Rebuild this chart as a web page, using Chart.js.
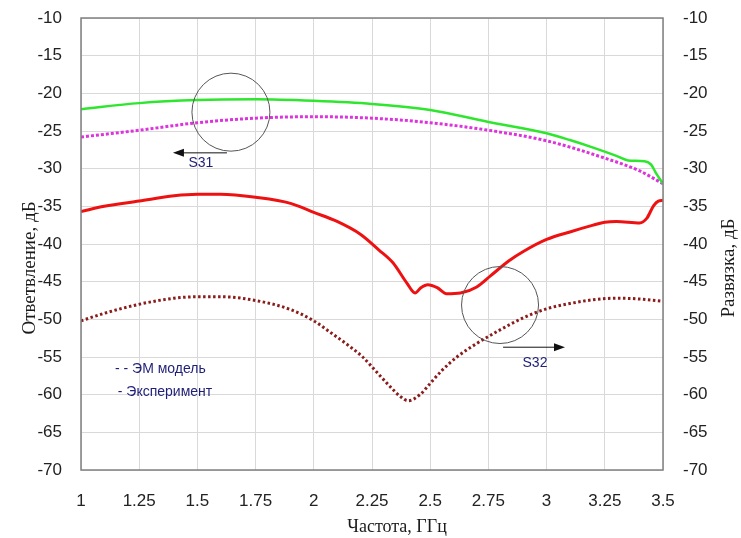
<!DOCTYPE html>
<html>
<head>
<meta charset="utf-8">
<script src="https://cdn.jsdelivr.net/npm/chart.js@4.4.1/dist/chart.umd.min.js"></script>
<style>
  body { margin: 0; background: #fff; }
  #wrap { width: 741px; height: 538px; }
</style>
</head>
<body>
<div id="wrap"><canvas id="chart" width="741" height="538"></canvas></div>
<script>
// S31 (ответвление), эксперимент - зелёная сплошная
const s31ExpFreq = [1, 1.25, 1.5, 1.75, 2, 2.25, 2.5, 2.75, 3, 3.1, 3.2, 3.3, 3.35, 3.42, 3.45, 3.47, 3.5];
const s31ExpVal  = [-22.1, -21.3, -20.9, -20.8, -21.0, -21.4, -22.2, -23.8, -25.3, -26.2, -27.2, -28.3, -28.9, -29.0, -29.5, -30.6, -32.0];

// S31, ЭМ модель - розовая пунктирная
const s31ModFreq = [1, 1.25, 1.5, 1.75, 2, 2.25, 2.5, 2.75, 3, 3.25, 3.4, 3.5];
const s31ModVal  = [-25.8, -24.9, -23.9, -23.3, -23.1, -23.3, -23.9, -24.9, -26.3, -28.6, -30.3, -32.0];

// S32 (развязка), эксперимент - красная сплошная
const s32ExpFreq = [1, 1.1, 1.25, 1.4, 1.5, 1.6, 1.75, 1.9, 2, 2.1, 2.2, 2.28, 2.34, 2.4, 2.435, 2.46, 2.49, 2.53, 2.57, 2.63, 2.7, 2.76, 2.84, 2.9, 3, 3.1, 3.2, 3.25, 3.3, 3.4, 3.43, 3.46, 3.48, 3.5];
const s32ExpVal  = [-35.7, -35.0, -34.3, -33.6, -33.4, -33.4, -33.8, -34.6, -35.8, -37.0, -38.7, -40.8, -42.5, -45.2, -46.5, -45.8, -45.4, -45.8, -46.6, -46.5, -45.7, -44.2, -42.2, -41.0, -39.4, -38.4, -37.5, -37.1, -37.0, -37.2, -36.6, -34.9, -34.3, -34.2];

// S32, ЭМ модель - тёмно-красная пунктирная
const s32ModFreq = [1, 1.1, 1.25, 1.4, 1.5, 1.6, 1.75, 1.9, 2, 2.07, 2.15, 2.21, 2.27, 2.33, 2.37, 2.405, 2.456, 2.5, 2.55, 2.615, 2.7, 2.8, 2.9, 3, 3.1, 3.2, 3.3, 3.4, 3.5];
const s32ModVal  = [-50.2, -49.2, -48.0, -47.2, -47.0, -47.0, -47.5, -48.7, -50.2, -51.7, -53.5, -55.0, -57.0, -59.0, -60.2, -60.8, -60.0, -58.5, -56.8, -55.0, -53.2, -51.4, -49.8, -48.6, -47.9, -47.4, -47.2, -47.3, -47.6];

// оси
const xTicksMin = 1, xTicksMax = 3.5, xStep = 0.25;
const yTicksMin = -70, yTicksMax = -10, yStep = 5;

const toPoints = (fr, vals) => fr.map((f, i) => ({ x: f, y: vals[i] }));

// подписи на графике (в координатах данных)
const notes = {
  circles: [
    { x: 1.644, y: -22.5, r: 39 },
    { x: 2.80, y: -48.1, r: 38.5 }
  ],
  arrows: [
    { x1: 1.627, x2: 1.395, y: -27.9 },
    { x1: 2.813, x2: 3.079, y: -53.7 }
  ],
  labels: [
    { text: "S31", x: 1.515, y: -29.3, align: "center" },
    { text: "S32", x: 2.95, y: -55.8, align: "center" },
    { text: "- - ЭМ модель", x: 1.146, y: -56.6, align: "left" },
    { text: "- Эксперимент", x: 1.158, y: -59.6, align: "left" }
  ]
};

// плагин для кругов, стрелок, подписей и названий осей
const notesPlugin = {
  id: "notes",
  afterDatasetsDraw(chart) {
    const ctx = chart.ctx;
    const xs = chart.scales.x, ys = chart.scales.y;
    ctx.save();
    ctx.strokeStyle = "#555";
    ctx.lineWidth = 1;
    notes.circles.forEach((c) => {
      ctx.beginPath();
      ctx.arc(xs.getPixelForValue(c.x), ys.getPixelForValue(c.y), c.r, 0, Math.PI * 2);
      ctx.stroke();
    });
    ctx.strokeStyle = "#111";
    ctx.fillStyle = "#111";
    notes.arrows.forEach((a) => {
      const px1 = xs.getPixelForValue(a.x1), px2 = xs.getPixelForValue(a.x2);
      const py = ys.getPixelForValue(a.y);
      const dir = px2 > px1 ? 1 : -1;
      ctx.beginPath();
      ctx.moveTo(px1, py);
      ctx.lineTo(px2 - dir * 8, py);
      ctx.stroke();
      ctx.beginPath();
      ctx.moveTo(px2, py);
      ctx.lineTo(px2 - dir * 11, py - 4);
      ctx.lineTo(px2 - dir * 11, py + 4);
      ctx.closePath();
      ctx.fill();
    });
    ctx.fillStyle = "#1f1f78";
    ctx.textBaseline = "middle";
    ctx.font = "14px 'Liberation Sans', Arial";
    notes.labels.forEach((l) => {
      ctx.textAlign = l.align;
      ctx.fillText(l.text, xs.getPixelForValue(l.x), ys.getPixelForValue(l.y));
    });
    ctx.restore();
  },
  afterDraw(chart) {
    const ctx = chart.ctx;
    const a = chart.chartArea;
    ctx.save();
    ctx.fillStyle = "#1a1a1a";
    ctx.font = "18px 'Liberation Serif', 'Times New Roman', serif";
    ctx.textAlign = "center";
    ctx.textBaseline = "middle";
    ctx.fillText("Частота, ГГц", a.left + 316, 527);
    ctx.translate(30, 268);
    ctx.rotate(-Math.PI / 2);
    ctx.font = "19px 'Liberation Serif', 'Times New Roman', serif";
    ctx.fillText("Ответвление, дБ", 0, 0);
    ctx.restore();
    ctx.save();
    ctx.fillStyle = "#1a1a1a";
    ctx.font = "19px 'Liberation Serif', 'Times New Roman', serif";
    ctx.textAlign = "center";
    ctx.textBaseline = "middle";
    ctx.translate(729, 268);
    ctx.rotate(-Math.PI / 2);
    ctx.fillText("Развязка, дБ", 0, 0);
    ctx.restore();
    // рамка области построения
    ctx.save();
    ctx.strokeStyle = "#808080";
    ctx.lineWidth = 1.5;
    ctx.strokeRect(a.left, a.top, a.right - a.left, a.bottom - a.top);
    ctx.restore();
  }
};

const tickFont = { family: "'Liberation Sans', Arial", size: 17 };

// фиксированная ширина вертикальной оси без отступов сверху/снизу
const fitY = (w) => (s) => {
  s.width = w;
  s.paddingTop = 0;
  s.paddingBottom = 0;
};

const ctx = document.querySelector("#chart").getContext("2d");
const chart = new Chart(ctx, {
  type: "line",
  data: {
    datasets: [
      {
        label: "S31 эксперимент",
        data: toPoints(s31ExpFreq, s31ExpVal),
        borderColor: "#2ee62e",
        borderWidth: 2.5,
        yAxisID: "y"
      },
      {
        label: "S31 ЭМ модель",
        data: toPoints(s31ModFreq, s31ModVal),
        borderColor: "#dd33dd",
        borderWidth: 3,
        borderDash: [3, 2],
        yAxisID: "y"
      },
      {
        label: "S32 эксперимент",
        data: toPoints(s32ExpFreq, s32ExpVal),
        borderColor: "#ee1111",
        borderWidth: 3,
        yAxisID: "y2"
      },
      {
        label: "S32 ЭМ модель",
        data: toPoints(s32ModFreq, s32ModVal),
        borderColor: "#8b1c1c",
        borderWidth: 3,
        borderDash: [2.5, 2.5],
        yAxisID: "y2"
      }
    ]
  },
  options: {
    responsive: false,
    animation: false,
    layout: { padding: { top: 18, left: 0, right: 0, bottom: 0 } },
    elements: {
      point: { radius: 0 },
      line: { tension: 0.4, cubicInterpolationMode: "monotone", fill: false }
    },
    plugins: { legend: { display: false }, tooltip: { enabled: false } },
    scales: {
      x: {
        type: "linear",
        min: xTicksMin,
        max: xTicksMax,
        afterFit: (s) => {
          s.height = 68;
          s.paddingLeft = 0;
          s.paddingRight = 0;
        },
        border: { display: false },
        grid: { color: "#d9d9d9", lineWidth: 1, drawTicks: false },
        ticks: {
          stepSize: xStep,
          padding: 21,
          color: "#222",
          font: tickFont,
          maxRotation: 0,
          callback: (v) => String(v)
        }
      },
      y: {
        position: "left",
        min: yTicksMin,
        max: yTicksMax,
        afterFit: fitY(81),
        border: { display: false },
        grid: { color: "#d9d9d9", lineWidth: 1, drawTicks: false },
        ticks: { stepSize: yStep, padding: 19, color: "#222", font: tickFont, callback: (v) => String(v) }
      },
      y2: {
        position: "right",
        min: yTicksMin,
        max: yTicksMax,
        afterFit: fitY(78),
        border: { display: false },
        grid: { display: false, drawTicks: false },
        ticks: { stepSize: yStep, padding: 20, color: "#222", font: tickFont, callback: (v) => String(v) }
      }
    }
  },
  plugins: [notesPlugin]
});
</script>
</body>
</html>
